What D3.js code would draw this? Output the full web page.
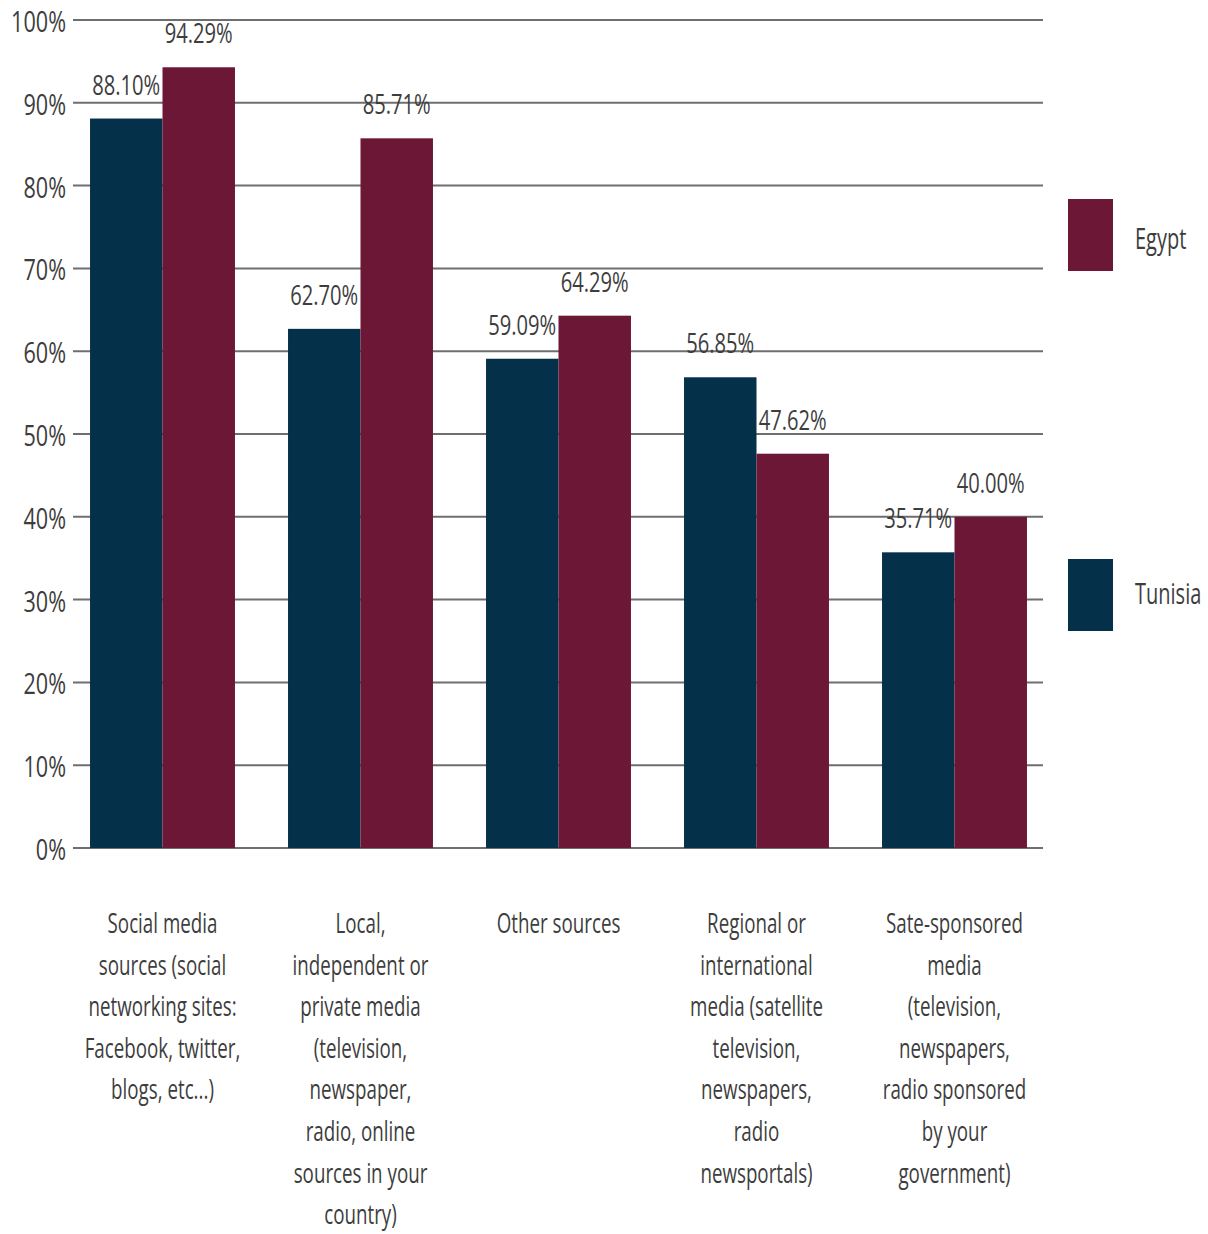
<!DOCTYPE html>
<html>
<head>
<meta charset="utf-8">
<script src="https://cdn.jsdelivr.net/npm/d3@7"></script>
<style>
  html, body { margin: 0; padding: 0; background: #fff; }
  svg { display: block; }
  text { font-family: "Open Sans", "Lato", sans-serif; fill: #3d3d3d; }
</style>
</head>
<body>
<svg id="chart" width="1208" height="1234"></svg>
<script>
const categories = [
  "Social media sources",
  "Local, independent or private media",
  "Other sources",
  "Regional or international media",
  "Sate-sponsored media"
];
const categoryLines = [
  ["Social media", "sources (social", "networking sites:", "Facebook, twitter,", "blogs, etc...)"],
  ["Local,", "independent or", "private media", "(television,", "newspaper,", "radio, online", "sources in your", "country)"],
  ["Other sources"],
  ["Regional or", "international", "media (satellite", "television,", "newspapers,", "radio", "newsportals)"],
  ["Sate-sponsored", "media", "(television,", "newspapers,", "radio sponsored", "by your", "government)"]
];
const seriesNames = ["Tunisia", "Egypt"];
const tunisia = [88.10, 62.70, 59.09, 56.85, 35.71];
const egypt = [94.29, 85.71, 64.29, 47.62, 40.00];
const yTicks = [0, 10, 20, 30, 40, 50, 60, 70, 80, 90, 100];
const legendOrder = ["Egypt", "Tunisia"];

const colors = { Tunisia: "#05304a", Egypt: "#6b1735" };
const SX = 0.72;

const svg = d3.select("#chart");
const y = d3.scaleLinear().domain([0, 100]).range([848, 20]);
const x0 = d3.scaleBand().domain(categories).range([63.5, 1053.5]).paddingInner(0.268).paddingOuter(0.134);
const x1 = d3.scaleBand().domain(seriesNames).range([0, x0.bandwidth()]).padding(0);

// gridlines
svg.append("g").selectAll("line").data(yTicks).join("line")
  .attr("x1", 73).attr("x2", 1043)
  .attr("y1", d => y(d)).attr("y2", d => y(d))
  .attr("stroke", "#6e6e6e").attr("stroke-width", 2);

// y tick labels
svg.append("g").selectAll("text").data(yTicks).join("text")
  .attr("transform", d => `translate(66,${y(d) + 12}) scale(${SX},1)`)
  .attr("text-anchor", "end")
  .attr("font-size", 30)
  .text(d => d + "%");

const data = categories.map((c, i) => ({ cat: c, values: [
  { key: "Tunisia", value: tunisia[i] },
  { key: "Egypt", value: egypt[i] }
]}));

const groups = svg.append("g").selectAll("g").data(data).join("g")
  .attr("transform", d => `translate(${x0(d.cat)},0)`);

groups.selectAll("rect").data(d => d.values).join("rect")
  .attr("x", d => x1(d.key))
  .attr("width", x1.bandwidth())
  .attr("y", d => y(d.value))
  .attr("height", d => y(0) - y(d.value))
  .attr("fill", d => colors[d.key]);

groups.selectAll("text.val").data(d => d.values).join("text")
  .attr("class", "val")
  .attr("transform", d => `translate(${x1(d.key) + x1.bandwidth() / 2},${y(d.value) - 24}) scale(${SX},1)`)
  .attr("text-anchor", "middle")
  .attr("font-size", 28)
  .text(d => d.value.toFixed(2) + "%");

// category labels
const catG = svg.append("g").selectAll("text").data(categories).join("text")
  .attr("transform", (d) => `translate(${x0(d) + x0.bandwidth() / 2},933) scale(0.67,1)`)
  .attr("text-anchor", "middle")
  .attr("font-size", 28);
catG.each(function(d, i) {
  d3.select(this).selectAll("tspan").data(categoryLines[i]).join("tspan")
    .attr("x", 0)
    .attr("y", (l, j) => j * 41.6)
    .text(l => l);
});

// legend
const legendY = { Egypt: 199, Tunisia: 559 };
const legendTextDy = { Egypt: 50, Tunisia: 45 };
const lg = svg.append("g").selectAll("g").data(legendOrder).join("g")
  .attr("transform", d => `translate(1068,${legendY[d]})`);
lg.append("rect").attr("width", 45).attr("height", 72).attr("fill", d => colors[d]);
lg.append("text")
  .attr("transform", d => `translate(67,${legendTextDy[d]}) scale(0.69,1)`)
  .attr("font-size", 29)
  .text(d => d);
</script>
</body>
</html>
